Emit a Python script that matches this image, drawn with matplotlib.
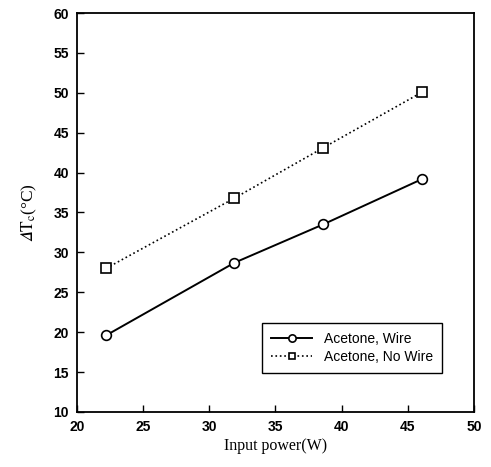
import matplotlib.pyplot as plt

# Temperature difference vs input power
power = [22.2, 31.9, 38.6, 46.1]
dt_wire = [19.6, 28.7, 33.5, 39.2]
dt_no_wire = [28.0, 36.8, 43.1, 50.1]

x_ticks = [20, 25, 30, 35, 40, 45, 50]
y_ticks = [10, 15, 20, 25, 30, 35, 40, 45, 50, 55, 60]

plt.rcParams['mathtext.fontset'] = 'stix'

fig = plt.figure(figsize=(4.91, 4.67), dpi=100)
ax = fig.add_axes([0.157, 0.118, 0.808, 0.854])

ax.plot(power, dt_wire, '-', color='black', lw=1.4, marker='o', ms=7,
        mfc='white', mec='black', mew=1.2, label='Acetone, Wire')
ax.plot(power, dt_no_wire, ':', color='black', lw=1.2, marker='s', ms=6.5,
        mfc='white', mec='black', mew=1.2, label='Acetone, No Wire')

ax.set_xlim(20, 50)
ax.set_ylim(10, 60)
ax.set_xticks(x_ticks)
ax.set_yticks(y_ticks)
ax.tick_params(direction='in', length=5, width=1, labelsize=10, pad=6)
for lab in ax.get_xticklabels() + ax.get_yticklabels():
    lab.set_fontfamily('Liberation Sans')
    lab.set_fontweight('bold')
for sp in ax.spines.values():
    sp.set_linewidth(1.3)

ax.set_xlabel('Input power(W)', family=['Liberation Serif', 'DejaVu Serif'],
              fontsize=11.5, labelpad=3)
ax.set_ylabel('$𝛥\\mathrm{T_c}$(°C)', family=['Liberation Serif', 'DejaVu Serif'],
              fontsize=12.5, labelpad=10)

leg = ax.legend(loc='lower right', bbox_to_anchor=(0.919, 0.098), borderaxespad=0,
                fancybox=False, edgecolor='black', framealpha=1, handlelength=3.0,
                handletextpad=0.8, borderpad=0.65, labelspacing=0.25, markerscale=0.75,
                prop={'family': 'Liberation Sans', 'size': 10})
leg.get_frame().set_linewidth(1.0)

fig.savefig('out.png', dpi=100)
